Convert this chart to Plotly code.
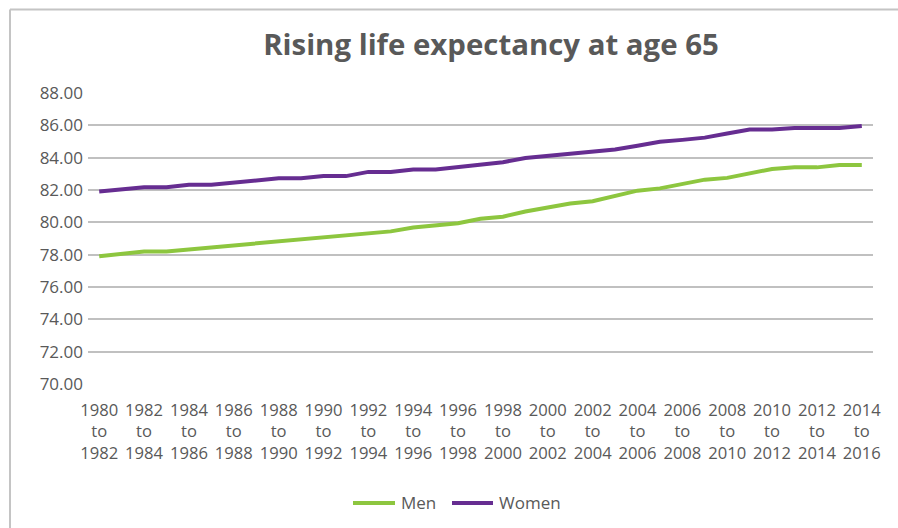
import plotly.graph_objects as go

start_years = list(range(1980, 2015))
categories = [f"{y} to {y + 2}" for y in start_years]

men = [77.90, 78.05, 78.20, 78.20, 78.33, 78.46, 78.59, 78.72, 78.85, 78.98,
       79.11, 79.24, 79.34, 79.44, 79.68, 79.80, 79.94, 80.22, 80.35, 80.67,
       80.94, 81.16, 81.30, 81.60, 81.96, 82.10, 82.38, 82.64, 82.75, 83.03,
       83.30, 83.40, 83.40, 83.55, 83.55]
women = [81.91, 82.05, 82.17, 82.17, 82.32, 82.32, 82.47, 82.60, 82.72, 82.72,
         82.86, 82.86, 83.12, 83.12, 83.27, 83.27, 83.44, 83.58, 83.72, 83.98,
         84.10, 84.24, 84.37, 84.50, 84.74, 84.98, 85.10, 85.24, 85.50, 85.74,
         85.74, 85.83, 85.83, 85.83, 85.96]

series_names = ["Men", "Women"]
series_colors = ["#8dc63f", "#662d91"]

tick_vals = categories[::2]
tick_text = [c.replace(" to ", "<br>to<br>") for c in tick_vals]

TXT = "#595959"
FONT = "Open Sans"

W, H = 898, 528
L, R, T, B = 88, 25, 93, 144
pw, ph = W - L - R, H - T - B


def px_x(p):
    return (p - L) / pw


def px_y(p):
    return (H - B - p) / ph


fig = go.Figure()
for name, vals, col in zip(series_names, [men, women], series_colors):
    fig.add_trace(go.Scatter(x=categories, y=vals, mode="lines", name=name,
                             line=dict(color=col, width=4), showlegend=False,
                             hoverinfo="skip"))

# outer chart border (top and left edges visible)
fig.add_shape(type="line", xref="paper", yref="paper",
              x0=px_x(10), x1=px_x(920), y0=px_y(9.5), y1=px_y(9.5),
              line=dict(color="#c4c4c4", width=2))
fig.add_shape(type="line", xref="paper", yref="paper",
              x0=px_x(10), x1=px_x(10), y0=px_y(9.5), y1=px_y(560),
              line=dict(color="#c4c4c4", width=2))

# legend keys (custom, to match the longer key lines)
legend_items = [(353, 395, 399), (452, 493, 497)]
for (lx0, lx1, tx), name, col in zip(legend_items, series_names, series_colors):
    fig.add_shape(type="line", xref="paper", yref="paper",
                  x0=px_x(lx0), x1=px_x(lx1), y0=px_y(503), y1=px_y(503),
                  line=dict(color=col, width=4))
    fig.add_annotation(xref="paper", yref="paper", x=px_x(tx), y=px_y(503),
                       text=name, showarrow=False, xanchor="left",
                       yanchor="middle",
                       font=dict(family=FONT, size=17, color=TXT))

fig.update_layout(
    width=W, height=H,
    margin=dict(l=L, r=R, t=T, b=B),
    paper_bgcolor="white", plot_bgcolor="white",
    font=dict(family=FONT, size=17, color=TXT),
    title=dict(text="<b>Rising life expectancy at age 65</b>",
               x=491 / W, xanchor="center", y=1 - 45 / H, yanchor="middle",
               font=dict(family=FONT, size=29.4, color=TXT)),
    showlegend=False,
    xaxis=dict(type="category", range=[-0.5, len(categories) - 0.5],
               tickmode="array", tickvals=tick_vals,
               ticktext=tick_text, showgrid=False, showline=False,
               zeroline=False, ticks="", tickangle=0, ticklabelstandoff=14,
               tickfont=dict(family=FONT, size=16.6, color=TXT)),
    yaxis=dict(range=[70, 88], dtick=2, tickformat=".2f", showgrid=True,
               gridcolor="#c0c0c0", gridwidth=1.5, zeroline=False,
               showline=False, ticks="", ticklabelstandoff=4,
               tickfont=dict(family=FONT, size=17, color=TXT)),
)

fig.write_html("out.html",
               config={"displayModeBar": False},
               post_script="document.body.style.margin='0';"
                           "document.body.style.overflow='hidden';")
